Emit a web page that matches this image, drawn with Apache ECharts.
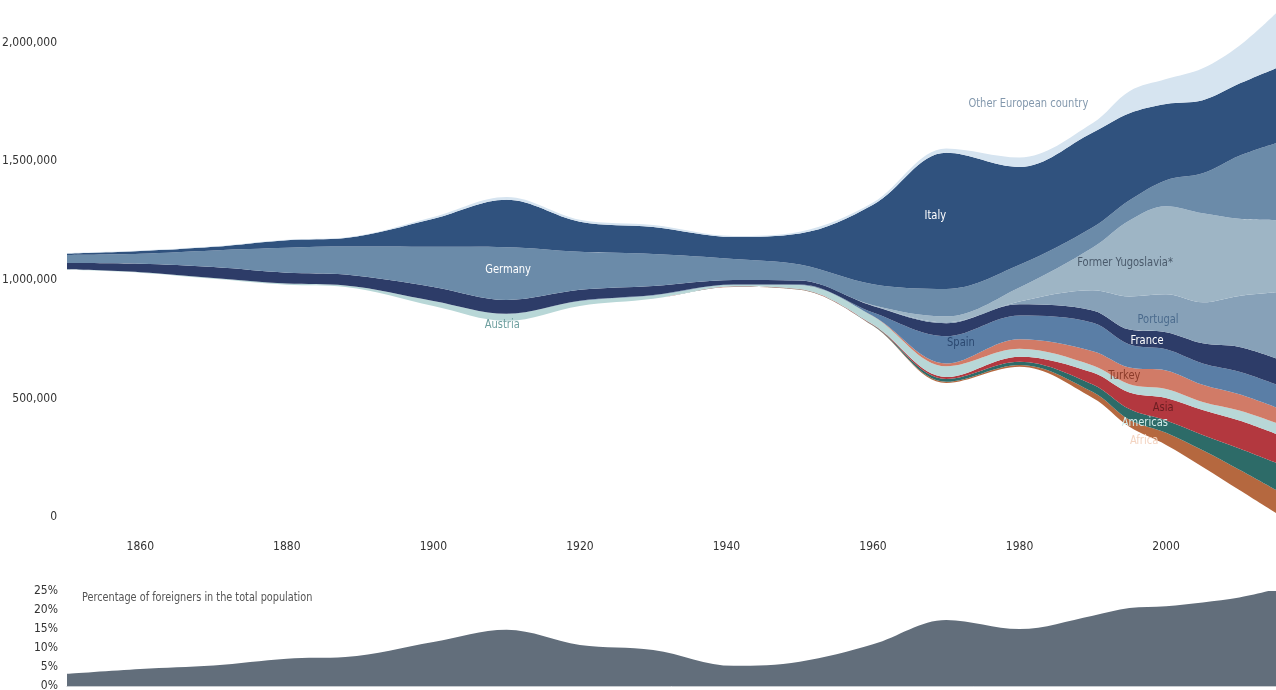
<!DOCTYPE html>
<html><head><meta charset="utf-8">
<script src="https://cdn.jsdelivr.net/npm/echarts@6/dist/echarts.min.js"></script>
<style>html,body{margin:0;padding:0;background:#fff}#c{width:1276px;height:690px}</style>
</head><body><div id="c"></div>
<script>
// Census years
const years = [1850,1860,1870,1880,1888,1900,1910,1920,1930,1941,1950,1960,1970,1980,1990,1995,2000,2005,2010,2015];
// Streamgraph offset (invisible base), thousands of persons
const baseline_k = [1042,1030,1004,979,970,890,827,890,920,970,958,806,565,633,502,380,304,211,114,17];
// Foreign residents by nationality, thousands of persons (stack order bottom -> top)
const africa_k     = [0,0,0,0,0,0,0,0,0,1,1,1,5,8,25,30,51,70,85,97];
const americas_k   = [0,0,0,0,0,0,0,0,0,1,1,2,12,14,32,45,52,65,90,115];
const asia_k       = [0,0,0,0,0,0,0,0,0,1,1,2,8,21,50,70,95,105,118,122];
const austria_k    = [2,2,4,5,6,21,30,21,14,6,17,35,45,33,30,35,38,34,42,46];
const turkey_k     = [0,0,0,0,0,0,0,0,0,0,0,1,12,40,60,70,78,72,68,65];
const spain_k      = [0,0,0,0,0,0,0,1,2,1,2,15,115,100,120,97,89,90,95,97];
const france_k     = [27,36,46,46,46,59,58,46,38,19,17,28,55,48,52,63,72,85,105,110];
const portugal_k   = [0,0,0,0,0,0,0,0,0,0,0,1,4,11,85,140,160,173,215,278];
const yugoslavia_k = [0,0,0,0,0,0,0,0,0,0,0,2,25,60,180,320,371,375,325,304];
const germany_k    = [34,42,70,105,118,169,222,160,135,89,67,88,115,95,85,85,110,169,266,325];
const italy_k      = [5,11,15,32,36,118,200,127,114,93,131,335,575,413,400,367,321,308,304,316];
const otherEur_k   = [2,2,2,2,2,8,12,8,8,4,8,10,18,40,40,93,105,135,160,232];
// Share of foreigners in total population (%)
const share_pct    = [3.2,4.5,5.4,7.2,7.6,11.6,14.8,10.8,9.5,5.3,6.4,11.0,17.4,15.0,18.5,20.5,21.0,22.0,23.3,25.5];
// Axis ticks
const xTicks = [1860,1880,1900,1920,1940,1960,1980,2000];
const yTicks_k = [0,500,1000,1500,2000];
const pctTicks = [0,5,10,15,20,25];

const layers = [
  {name:'Africa', data:africa_k, color:'#b5683f'},
  {name:'Americas', data:americas_k, color:'#2d6b68'},
  {name:'Asia', data:asia_k, color:'#b3383f'},
  {name:'Austria', data:austria_k, color:'#b8d7d7'},
  {name:'Turkey', data:turkey_k, color:'#d17b67'},
  {name:'Spain', data:spain_k, color:'#5a7ea6'},
  {name:'France', data:france_k, color:'#2d3c68'},
  {name:'Portugal', data:portugal_k, color:'#87a1b8'},
  {name:'Former Yugoslavia*', data:yugoslavia_k, color:'#9eb5c5'},
  {name:'Germany', data:germany_k, color:'#6b8ba9'},
  {name:'Italy', data:italy_k, color:'#30527e'},
  {name:'Other European country', data:otherEur_k, color:'#d6e4f0'}
];

// Annotations (text, anchor year, anchor value in thousands)
const labels = [
  {text:'Other European country', year:1981.2, value:1741, color:'#8398ad'},
  {text:'Italy', year:1968.5, value:1269, color:'#ffffff'},
  {text:'Germany', year:1910.2, value:1041, color:'#ffffff'},
  {text:'Former Yugoslavia*', year:1994.4, value:1071, color:'#4a5a6b'},
  {text:'Austria', year:1909.4, value:809, color:'#6e9f9f'},
  {text:'Spain', year:1972, value:734, color:'#2b4870'},
  {text:'Portugal', year:1998.9, value:831, color:'#4b6b8d'},
  {text:'France', year:1997.4, value:742, color:'#ffffff'},
  {text:'Turkey', year:1994.3, value:594, color:'#8b3b2a'},
  {text:'Asia', year:1999.6, value:460, color:'#6b1e22'},
  {text:'Americas', year:1997.1, value:396, color:'#d3ecea'},
  {text:'Africa', year:1997, value:320, color:'#f3d3c0'}
];

const FONT = "'DejaVu Sans Condensed','Liberation Sans Narrow','Open Sans',sans-serif";
const YEAR_MS = 365.2425*86400000;
const t = y => Date.UTC(Math.floor(y),0,1) + (y-Math.floor(y))*YEAR_MS;
const fmtThousands = v => (v*1000).toLocaleString('en-US');

const series = [{
  type:'line', name:'base', stack:'s', data:years.map((y,i)=>[t(y), baseline_k[i]]), smooth:0.35,
  showSymbol:false, symbol:'none', lineStyle:{width:0}, areaStyle:{opacity:0}, silent:true,
  xAxisIndex:0, yAxisIndex:0
}];
layers.forEach(l=>{
  series.push({
    type:'line', name:l.name, stack:'s', data:years.map((y,i)=>[t(y), l.data[i]]), smooth:0.35,
    showSymbol:false, symbol:'none', lineStyle:{width:0}, areaStyle:{color:l.color, opacity:1},
    itemStyle:{color:l.color}, silent:true, xAxisIndex:0, yAxisIndex:0
  });
});
series.push({
  type:'line', name:'share', data:years.map((y,i)=>[t(y), share_pct[i]]), smooth:0.35, showSymbol:false, symbol:'none',
  lineStyle:{width:0}, areaStyle:{color:'#626e7b', opacity:1}, silent:true,
  xAxisIndex:2, yAxisIndex:1
});

const chart = echarts.init(document.getElementById('c'));
chart.setOption({
  animation:false,
  backgroundColor:'#ffffff',
  grid:[
    {left:67, right:0, top:7, bottom:173, outerBoundsMode:'none'},
    {left:67, right:0, top:591, bottom:4, outerBoundsMode:'none'}
  ],
  xAxis:[
    {type:'time', gridIndex:0, min:t(1850), max:t(2015), show:false, position:'bottom'},
    {type:'value', gridIndex:0, min:1850, max:2015, position:'bottom', offset:0,
     axisLine:{show:false}, axisTick:{show:false}, splitLine:{show:false},
     axisLabel:{customValues:xTicks, margin:24, color:'#333', fontSize:12, fontFamily:FONT, formatter:v=>String(v)}},
    {type:'time', gridIndex:1, min:t(1850), max:t(2015),
     axisLine:{show:true, lineStyle:{color:'#c8ccd0', width:1}}, axisTick:{show:false},
     splitLine:{show:false}, axisLabel:{show:false}}
  ],
  yAxis:[
    {type:'value', gridIndex:0, min:0, max:2150,
     axisLine:{show:false}, axisTick:{show:false}, splitLine:{show:false},
     axisLabel:{customValues:yTicks_k, margin:10, color:'#333', fontSize:12, fontFamily:FONT, formatter:fmtThousands}},
    {type:'value', gridIndex:1, min:0, max:25,
     axisLine:{show:false}, axisTick:{show:false}, splitLine:{show:false},
     axisLabel:{customValues:pctTicks, margin:9, color:'#333', fontSize:12, fontFamily:FONT, formatter:v=>v+'%'}}
  ],
  series:series
});

const g = labels.map(l=>{
  const p = chart.convertToPixel({xAxisIndex:0, yAxisIndex:0}, [t(l.year), l.value]);
  return {type:'text', x:p[0], y:p[1], scaleX:0.85, silent:true, z:100,
    style:{text:l.text, fill:l.color, font:'13px '+FONT, align:'center', verticalAlign:'middle'}};
});
g.push({type:'text', x:82, y:598, scaleX:0.9, silent:true, z:100,
  style:{text:'Percentage of foreigners in the total population', fill:'#555', font:'12px '+FONT, align:'left', verticalAlign:'middle'}});
chart.setOption({graphic:g});
</script>
</body></html>
